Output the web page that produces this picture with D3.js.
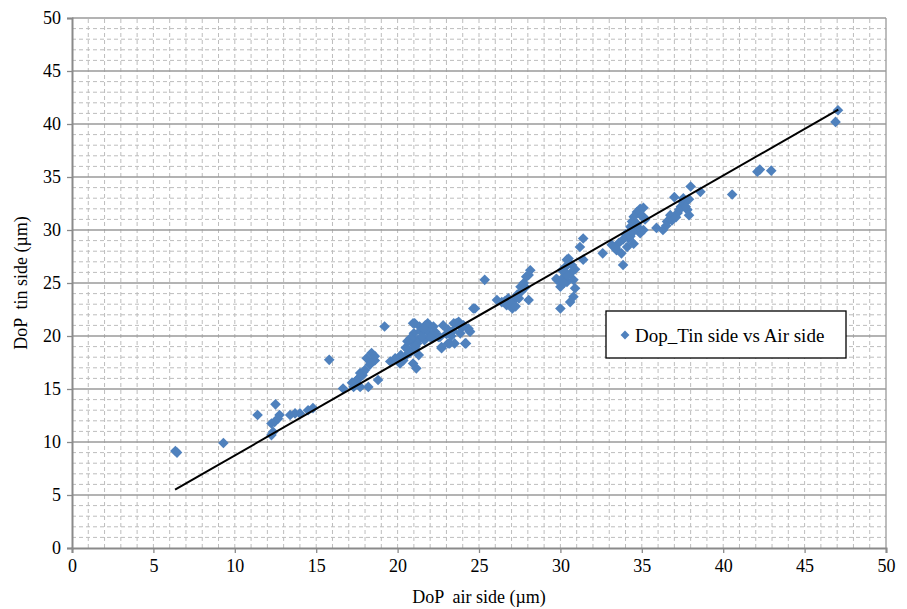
<!DOCTYPE html>
<html>
<head>
<meta charset="utf-8">
<script src="https://cdnjs.cloudflare.com/ajax/libs/d3/7.8.5/d3.min.js"></script>
<style>
  body { margin: 0; background: #fff; }
  svg text { font-family: "Liberation Serif", "Times New Roman", serif !important; fill: #000; white-space: pre; }
</style>
</head>
<body>
<script>
// DoP air side (x) and tin side (y), in µm
var airSide = [6.35, 6.45, 9.3, 11.4, 12.5, 12.35, 12.25, 12.45, 12.75, 12.65, 12.25, 13.4, 13.7, 14.0, 14.5, 14.8,
  15.8, 16.65, 17.3, 17.5, 17.7, 17.9, 17.4, 17.7, 18.1, 18.4, 18.6, 18.3, 18.8, 18.2, 19.2,
  19.55, 19.85, 20.15, 20.45, 20.75, 21.05, 21.15, 20.95, 20.9, 21.0, 21.05, 21.35, 21.55, 21.25, 21.65, 21.85, 21.95, 20.65, 20.35,
  22.8, 23.1, 23.45, 23.75, 24.05, 24.35, 24.45, 23.85, 22.7, 23.1, 23.5, 24.15, 24.65, 22.5, 22.15,
  25.35, 26.1, 26.4, 26.7, 27.05, 27.15, 27.35, 27.55, 27.75, 28.05, 28.15, 28.05, 27.45, 26.8,
  30.0, 30.0, 29.75, 30.1, 30.3, 30.5, 30.6, 30.8, 30.9, 30.8, 30.6, 30.4, 30.1, 31.4, 31.2, 31.4,
  32.6, 33.15, 33.45, 33.85, 33.75, 34.1, 34.2, 34.4, 34.7, 34.9, 35.1, 34.5, 33.85, 34.9, 34.7, 34.5, 34.4,
  35.9, 36.3, 36.55, 36.75, 37.0, 37.4, 37.6, 37.8, 37.9, 38.0, 38.6, 37.2, 36.85, 37.5,
  40.55, 42.25, 42.95, 47.05, 46.9, 35.1, 35.1,
  20.95, 21.4, 21.8, 20.9, 21.2, 22.0, 22.7, 23.2, 23.6, 24.0, 24.4, 24.2, 23.0, 22.6, 23.4, 24.75,
  29.8, 30.2, 30.4, 20.5, 21.5, 21.8, 21.3, 20.2, 22.3, 21.7, 20.8,
  17.6, 17.85, 17.45, 18.0, 18.45, 26.6, 27.0, 27.6, 27.85, 27.25,
  30.3, 30.45, 30.7, 30.2, 34.0, 34.3, 34.6, 34.8, 35.0, 34.3, 33.6, 33.4,
  37.3, 37.7, 36.5, 37.9, 37.1,
  42.1, 21.1, 21.6, 20.6, 22.2, 23.3, 23.9, 17.2, 18.6, 27.9, 30.9, 34.45, 35.2, 37.55];
var tinSide = [9.15, 9.0, 9.9, 12.55, 13.55, 10.95, 10.65, 11.9, 12.55, 12.2, 11.75, 12.55, 12.7, 12.7, 13.0, 13.2,
  17.75, 15.05, 15.2, 15.85, 16.5, 16.6, 15.5, 15.2, 17.9, 18.4, 17.7, 17.3, 15.85, 15.2, 20.9,
  17.6, 17.9, 17.4, 18.05, 18.4, 18.8, 16.95, 17.4, 19.3, 20.25, 21.2, 20.9, 20.4, 19.6, 19.6, 21.2, 20.25, 18.7, 17.7,
  21.0, 20.6, 21.2, 21.35, 21.0, 20.7, 20.4, 20.25, 18.85, 19.3, 19.3, 19.3, 22.6, 19.9, 19.8,
  25.3, 23.4, 23.2, 22.9, 22.6, 23.4, 23.9, 24.65, 25.0, 25.75, 26.2, 23.4, 23.55, 23.55,
  22.6, 24.65, 25.4, 26.2, 26.5, 27.3, 25.9, 25.3, 24.5, 23.7, 23.2, 25.1, 25.4, 29.2, 28.4, 27.2,
  27.8, 28.6, 28.1, 26.7, 27.8, 28.4, 29.2, 30.0, 30.6, 29.7, 30.0, 28.7, 29.1, 32.0, 31.7, 31.25, 30.8,
  30.2, 30.0, 30.8, 31.4, 33.1, 32.2, 32.5, 31.9, 31.4, 34.1, 33.6, 31.6, 30.9, 32.7,
  33.35, 35.7, 35.6, 41.3, 40.2, 32.1, 31.25,
  21.2, 20.5, 20.85, 19.9, 19.3, 19.9, 18.96, 19.3, 21.2, 20.9, 20.5, 19.3, 20.2, 19.9, 20.5, 22.6,
  25.3, 25.0, 27.2, 18.9, 20.0, 20.6, 18.2, 18.2, 20.4, 21.0, 19.8,
  16.0, 16.3, 15.75, 16.8, 17.6, 23.3, 23.1, 24.2, 24.6, 22.8,
  26.0, 25.7, 26.7, 25.0, 29.6, 29.4, 30.3, 30.2, 31.3, 30.3, 28.8, 28.3,
  31.9, 32.2, 30.4, 32.9, 31.2,
  35.5, 19.0, 20.7, 19.5, 20.9, 20.0, 20.8, 15.6, 18.1, 25.6, 26.3, 29.8, 31.0, 33.0];

// linear trendline end points as drawn
var trendX = [6.33, 47.07];
var trendY = [5.5, 41.36];

var xTicks = [0, 5, 10, 15, 20, 25, 30, 35, 40, 45, 50];
var yTicks = [0, 5, 10, 15, 20, 25, 30, 35, 40, 45, 50];
var minorTicks = d3.range(1, 50);

var seriesName = "Dop_Tin side vs Air side";
var xTitle = "DoP  air side (\u00b5m)";
var yTitle = "DoP  tin side (\u00b5m)";

var width = 907, height = 609;
var margin = { left: 72, right: 21, top: 18, bottom: 61 };

var svg = d3.select("body").append("svg")
  .attr("width", width)
  .attr("height", height);

var x = d3.scaleLinear().domain([0, 50]).range([margin.left, width - margin.right]);
var y = d3.scaleLinear().domain([0, 50]).range([height - margin.bottom, margin.top]);

var grid = svg.append("g");

// dashed minor grid
grid.selectAll(".vminor")
  .data(minorTicks)
  .enter().append("line")
  .attr("x1", d => x(d)).attr("x2", d => x(d))
  .attr("y1", y(0)).attr("y2", y(50))
  .attr("stroke", "#bdbdbd")
  .attr("stroke-dasharray", "4,3");

grid.selectAll(".hminor")
  .data(minorTicks.filter(d => d % 5 != 0))
  .enter().append("line")
  .attr("x1", x(0)).attr("x2", x(50))
  .attr("y1", d => y(d)).attr("y2", d => y(d))
  .attr("stroke", "#bdbdbd")
  .attr("stroke-dasharray", "4,3");

// solid major horizontal grid
grid.selectAll(".hmajor")
  .data(yTicks.filter(d => d > 0))
  .enter().append("line")
  .attr("x1", x(0)).attr("x2", x(50))
  .attr("y1", d => y(d)).attr("y2", d => y(d))
  .attr("stroke", "#9a9a9a")
  .attr("stroke-width", 1.3);

// right border
grid.append("line")
  .attr("x1", x(50)).attr("x2", x(50))
  .attr("y1", y(0)).attr("y2", y(50))
  .attr("stroke", "#9a9a9a")
  .attr("stroke-width", 1.3);

// axes
var xAxis = svg.append("g")
  .attr("transform", "translate(0," + y(0) + ")")
  .call(d3.axisBottom(x).tickValues(xTicks).tickSize(5).tickPadding(6));
var yAxis = svg.append("g")
  .attr("transform", "translate(" + x(0) + ",0)")
  .call(d3.axisLeft(y).tickValues(yTicks).tickSize(5).tickPadding(6));

[xAxis, yAxis].forEach(function (a) {
  a.attr("font-family", null).attr("font-size", null);
  a.select(".domain").attr("stroke", "#8a8a8a").attr("stroke-width", 2);
  a.selectAll(".tick line").attr("stroke", "#8a8a8a").attr("stroke-width", 1.3);
  a.selectAll(".tick text")
    .style("font-family", "'Liberation Serif', serif")
    .style("font-size", "18px")
    .attr("fill", "#000");
});

// points
var diamond = d3.symbol().type(d3.symbolDiamond2).size(72);
svg.append("g").selectAll("path")
  .data(airSide.map((d, i) => [d, tinSide[i]]))
  .enter().append("path")
  .attr("d", diamond)
  .attr("transform", d => "translate(" + x(d[0]) + "," + y(d[1]) + ")")
  .attr("fill", "#4f81bd");

// trendline
svg.append("line")
  .attr("x1", x(trendX[0])).attr("y1", y(trendY[0]))
  .attr("x2", x(trendX[1])).attr("y2", y(trendY[1]))
  .attr("stroke", "#000")
  .attr("stroke-width", 2);

// axis titles
svg.append("text")
  .attr("x", (x(0) + x(50)) / 2)
  .attr("y", 603)
  .attr("text-anchor", "middle")
  .attr("font-size", 18)
  .text(xTitle);

svg.append("text")
  .attr("transform", "translate(27," + ((y(0) + y(50)) / 2) + ") rotate(-90)")
  .attr("text-anchor", "middle")
  .attr("font-size", 18)
  .text(yTitle);

// legend
var legend = svg.append("g");
legend.append("rect")
  .attr("x", 606).attr("y", 311)
  .attr("width", 240).attr("height", 47)
  .attr("fill", "#fff")
  .attr("stroke", "#000")
  .attr("stroke-width", 1.3);
legend.append("path")
  .attr("d", d3.symbol().type(d3.symbolDiamond2).size(50))
  .attr("transform", "translate(625,335)")
  .attr("fill", "#4f81bd");
legend.append("text")
  .attr("x", 635).attr("y", 342)
  .attr("font-size", 19)
  .text(seriesName);
</script>
</body>
</html>
